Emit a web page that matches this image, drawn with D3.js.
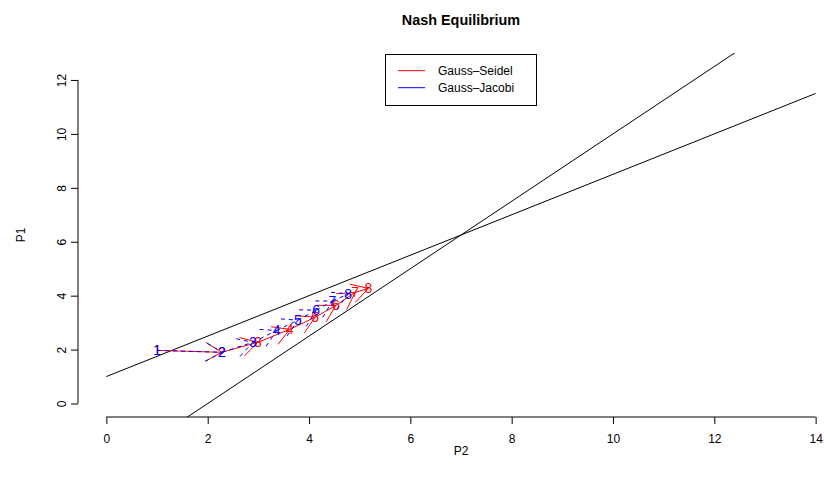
<!DOCTYPE html>
<html>
<head>
<meta charset="utf-8">
<script src="https://cdn.jsdelivr.net/npm/d3@7"></script>
<style>
  body { margin: 0; background: #fff; }
  text { font-family: "Liberation Sans", Arial, sans-serif; }
</style>
</head>
<body>
<script>
// reaction lines, evaluated at P2 = 0 and P2 = 14
let lineP2 = [0, 14];
let reactP1 = [1, 11.5];     // P1 = 1 + 0.75*P2
let reactP2 = [-2.5, 15];    // P1 = 1.25*P2 - 2.5

// iterates (P2, P1)
let seidelP2 = [1.0, 2.28, 2.99, 3.62, 4.12, 4.53, 4.91, 5.17];
let seidelP1 = [1.97, 1.90, 2.27, 2.75, 3.20, 3.64, 4.12, 4.27];
let jacobiP2 = [1.0, 2.28, 2.89, 3.36, 3.78, 4.14, 4.46, 4.77];
let jacobiP1 = [1.97, 1.90, 2.27, 2.71, 3.09, 3.46, 3.80, 4.06];

let xTicks = [0, 2, 4, 6, 8, 10, 12, 14];
let yTicks = [0, 2, 4, 6, 8, 10, 12];
let legendNames = ['Gauss\u2013Seidel', 'Gauss\u2013Jacobi'];
let legendColors = ['red', 'blue'];

function main(){
    let width = 824, height = 487;
    let left = 78, right = 844, top = 53, bottom = 417; // plot region

    var svg = d3.select('body')
        .append('svg')
        .attr('width', width)
        .attr('height', height);

    var x = d3.scaleLinear().domain([-0.56, 14.56]).range([left, right]);
    var y = d3.scaleLinear().domain([-0.5, 13]).range([bottom, top]);

    svg.append('clipPath').attr('id', 'plotclip')
        .append('rect')
        .attr('x', left).attr('y', top)
        .attr('width', right - left).attr('height', bottom - top);

    // title + axis labels
    svg.append('text').attr('x', (left + right) / 2).attr('y', 25)
        .attr('text-anchor', 'middle').attr('font-weight', 'bold')
        .attr('font-size', 14.4).text('Nash Equilibrium');
    svg.append('text').attr('x', (left + right) / 2).attr('y', 455)
        .attr('text-anchor', 'middle').attr('font-size', 12).text('P2');
    svg.append('text')
        .attr('transform', `translate(25,${(top + bottom) / 2}) rotate(-90)`)
        .attr('text-anchor', 'middle').attr('font-size', 12).text('P1');

    // axes
    var gx = svg.append('g')
        .attr('transform', `translate(0,${bottom})`)
        .call(d3.axisBottom(x).tickValues(xTicks).tickSize(7).tickPadding(10));
    gx.select('.domain').attr('d', `M${x(xTicks[0])},0H${x(xTicks[xTicks.length - 1])}`);

    var gy = svg.append('g')
        .attr('transform', `translate(${left},0)`)
        .call(d3.axisLeft(y).tickValues(yTicks).tickSize(7));
    gy.select('.domain').attr('d', `M0,${y(yTicks[0])}V${y(yTicks[yTicks.length - 1])}`);
    gy.selectAll('.tick text')
        .attr('transform', 'rotate(-90)')
        .attr('x', 0).attr('y', -12).attr('dy', 0)
        .attr('text-anchor', 'middle');

    svg.selectAll('.tick text').attr('font-size', 12)
        .attr('font-family', '"Liberation Sans", Arial, sans-serif').attr('fill', '#000');
    svg.selectAll('.domain, .tick line').attr('stroke', '#000');

    // reaction lines
    var plot = svg.append('g').attr('clip-path', 'url(#plotclip)');
    var line = d3.line().x(d => x(d[0])).y(d => y(d[1]));
    [reactP1, reactP2].forEach(function(r){
        plot.append('path')
            .datum(lineP2.map((p, i) => [p, r[i]]))
            .attr('d', line)
            .attr('fill', 'none')
            .attr('stroke', '#000')
            .attr('stroke-width', 1);
    });

    // arrows with labels
    function drawPath(p2, p1, color, dash){
        var g = plot.append('g')
            .attr('stroke', color).attr('fill', 'none')
            .attr('stroke-dasharray', dash);
        var headLen = 19, headAng = Math.PI / 6;
        for (let i = 0; i < p2.length - 1; i++) {
            let x0 = x(p2[i]), y0 = y(p1[i]), x1 = x(p2[i + 1]), y1 = y(p1[i + 1]);
            let a = Math.atan2(y1 - y0, x1 - x0);
            let d = `M${x0},${y0}L${x1},${y1}`
                + `M${x1 + headLen * Math.cos(a + Math.PI - headAng)},${y1 + headLen * Math.sin(a + Math.PI - headAng)}`
                + `L${x1},${y1}`
                + `L${x1 + headLen * Math.cos(a + Math.PI + headAng)},${y1 + headLen * Math.sin(a + Math.PI + headAng)}`;
            g.append('path').attr('d', d);
        }
        plot.selectAll(null)
            .data(p2)
            .enter()
            .append('text')
            .attr('x', d => x(d))
            .attr('y', (d, i) => y(p1[i]))
            .attr('dy', '0.35em')
            .attr('text-anchor', 'middle')
            .attr('font-size', 14)
            .attr('fill', color)
            .text((d, i) => i + 1);
    }
    drawPath(seidelP2, seidelP1, 'red', null);
    drawPath(jacobiP2, jacobiP1, 'blue', '4,4');

    // legend
    var lg = svg.append('g');
    lg.append('rect').attr('x', 385.5).attr('y', 54.5).attr('width', 151).attr('height', 51)
        .attr('fill', '#fff').attr('stroke', '#000');
    legendNames.forEach(function(n, i){
        let ly = 70.7 + i * 17;
        lg.append('line').attr('x1', 398).attr('x2', 425).attr('y1', ly).attr('y2', ly)
            .attr('stroke', legendColors[i]);
        lg.append('text').attr('x', 438).attr('y', ly).attr('dy', '0.35em')
            .attr('font-size', 12).text(n);
    });
}
main();
</script>
</body>
</html>
